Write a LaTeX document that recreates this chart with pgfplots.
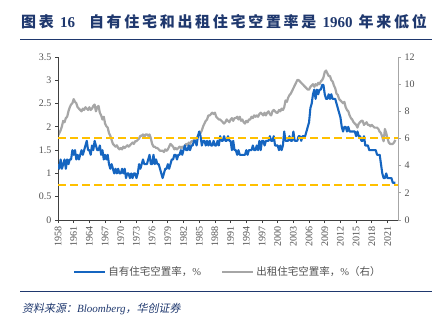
\documentclass[border=0pt]{standalone}
\usepackage{pgfplots}
\pgfplotsset{compat=1.18}
\usepackage{pgfplotstable}
\usepackage{fontspec}
\setmainfont{Liberation Serif}
\newfontfamily\cjk{Noto Sans CJK SC}
\newfontfamily\cjkt[LetterSpace=18]{Noto Sans CJK SC}
\newfontfamily\cjki[FakeSlant=0.2]{Noto Sans CJK SC}
\definecolor{navy}{RGB}{31,56,110}
\definecolor{cblue}{RGB}{21,101,192}
\definecolor{cgray}{RGB}{166,166,166}
\definecolor{corange}{RGB}{255,192,0}
\definecolor{tgray}{RGB}{80,80,80}

\pgfplotstableread[row sep=\\]{v\\
1.2\\1.1\\1.3\\1.1\\
1.2\\1.3\\1.1\\1.3\\
1.2\\1.3\\1.3\\1.5\\
1.4\\1.5\\1.3\\1.4\\
1.3\\1.4\\1.5\\1.4\\
1.5\\1.6\\1.7\\1.5\\
1.5\\1.4\\1.6\\1.5\\
1.7\\1.6\\1.5\\1.5\\
1.6\\1.4\\1.5\\1.3\\
1.4\\1.3\\1.4\\1.2\\
1.1\\1.2\\1.1\\1.0\\
1.1\\1.0\\1.1\\1.0\\
1.0\\1.1\\1.0\\1.1\\
0.9\\1.0\\1.0\\0.9\\
1.0\\0.9\\1.0\\1.0\\
0.9\\1.0\\1.2\\1.1\\
1.2\\1.3\\1.2\\1.2\\
1.2\\1.3\\1.4\\1.2\\
1.2\\1.4\\1.2\\1.3\\
1.2\\1.2\\1.1\\1.0\\
0.9\\1.0\\1.1\\1.1\\
1.2\\1.1\\1.2\\1.3\\
1.3\\1.4\\1.4\\1.3\\
1.4\\1.4\\1.5\\1.4\\
1.5\\1.6\\1.5\\1.5\\
1.6\\1.5\\1.6\\1.6\\
1.7\\1.7\\1.6\\1.8\\
1.9\\1.8\\1.6\\1.7\\
1.7\\1.6\\1.7\\1.6\\
1.7\\1.6\\1.6\\1.7\\
1.6\\1.6\\1.7\\1.6\\
1.8\\1.7\\1.7\\1.8\\
1.7\\1.7\\1.8\\1.7\\
1.7\\1.5\\1.7\\1.5\\
1.5\\1.4\\1.5\\1.4\\
1.4\\1.4\\1.4\\1.4\\
1.5\\1.4\\1.5\\1.5\\
1.5\\1.6\\1.5\\1.5\\
1.6\\1.5\\1.7\\1.5\\
1.7\\1.7\\1.6\\1.7\\
1.7\\1.7\\1.8\\1.7\\
1.7\\1.8\\1.6\\1.6\\
1.6\\1.5\\1.6\\1.5\\
1.6\\1.9\\1.7\\1.7\\
1.7\\1.8\\1.7\\1.7\\
1.9\\1.7\\1.7\\1.7\\
1.8\\1.8\\1.7\\1.8\\
1.8\\1.8\\1.9\\2.0\\
2.1\\2.4\\2.5\\2.7\\
2.8\\2.6\\2.8\\2.7\\
2.8\\2.8\\2.9\\2.9\\
2.7\\2.6\\2.6\\2.7\\
2.6\\2.7\\2.6\\2.6\\
2.6\\2.5\\2.4\\2.3\\
2.2\\2.0\\1.9\\2.0\\
2.0\\1.9\\2.0\\1.9\\
1.9\\1.9\\1.9\\1.9\\
1.8\\1.9\\1.8\\1.8\\
1.7\\1.7\\1.8\\1.6\\
1.6\\1.6\\1.5\\1.5\\
1.5\\1.5\\1.5\\1.5\\
1.4\\1.4\\1.4\\1.2\\
1.0\\0.9\\0.9\\1.0\\
0.9\\0.9\\0.9\\0.9\\
0.8\\0.8\\0.8\\
}\owner

\pgfplotstableread[row sep=\\]{v\\
6.2\\6.4\\6.6\\6.9\\
7.3\\7.2\\7.5\\7.6\\
8.0\\8.3\\8.5\\8.6\\
8.9\\8.7\\8.6\\8.3\\
8.2\\8.1\\8.0\\8.2\\
8.1\\8.3\\8.2\\8.1\\
8.3\\8.1\\8.2\\8.4\\
8.5\\8.0\\8.3\\8.4\\
7.9\\7.7\\7.4\\7.6\\
7.1\\6.9\\6.8\\6.4\\
6.2\\5.9\\5.6\\5.5\\
5.4\\5.5\\5.3\\5.2\\
5.3\\5.2\\5.4\\5.3\\
5.4\\5.5\\5.4\\5.5\\
5.6\\5.7\\5.6\\5.8\\
5.8\\5.9\\6.0\\6.2\\
6.2\\6.3\\6.1\\6.3\\
6.3\\6.2\\6.3\\6.0\\
5.6\\5.4\\5.4\\5.3\\
5.3\\5.2\\5.1\\5.1\\
5.1\\5.0\\5.2\\5.1\\
5.2\\5.4\\5.6\\5.5\\
5.4\\5.2\\5.3\\5.2\\
5.3\\5.4\\5.3\\5.4\\
5.3\\5.5\\5.6\\5.5\\
5.7\\5.6\\5.8\\5.8\\
5.9\\6.0\\6.0\\6.2\\
6.3\\6.4\\6.6\\6.9\\
7.1\\7.3\\7.4\\7.7\\
7.7\\7.8\\7.9\\7.8\\
7.9\\7.6\\7.5\\7.4\\
7.4\\7.3\\7.2\\7.1\\
7.2\\7.4\\7.3\\7.2\\
7.4\\7.5\\7.3\\7.5\\
7.5\\7.6\\7.4\\7.6\\
7.3\\7.4\\7.2\\7.1\\
7.3\\7.2\\7.4\\7.4\\
7.6\\7.5\\7.7\\7.6\\
7.7\\7.6\\7.8\\7.9\\
7.8\\7.7\\7.9\\7.7\\
7.9\\8.0\\7.8\\7.7\\
8.0\\8.1\\8.0\\7.9\\
7.9\\8.1\\8.0\\8.2\\
8.1\\8.3\\8.8\\8.7\\
9.0\\9.2\\9.3\\9.5\\
9.7\\9.9\\10.1\\10.3\\
10.3\\10.2\\10.1\\10.0\\
9.9\\9.8\\9.7\\9.6\\
9.6\\9.8\\9.9\\10.0\\
9.8\\10.0\\9.9\\10.1\\
10.0\\10.2\\10.3\\10.5\\
10.9\\11.0\\10.8\\10.6\\
10.6\\10.3\\10.2\\9.9\\
9.7\\9.3\\9.2\\8.9\\
8.8\\8.7\\8.6\\8.7\\
8.3\\8.1\\8.0\\7.7\\
7.5\\7.4\\7.2\\7.1\\
7.0\\6.8\\7.1\\7.2\\
7.3\\7.3\\7.0\\7.1\\
7.2\\7.0\\7.0\\6.9\\
7.0\\6.9\\6.8\\6.8\\
6.8\\6.7\\6.5\\6.4\\
6.1\\5.8\\6.7\\6.4\\
6.0\\5.7\\5.6\\5.6\\
5.6\\5.7\\5.9\\
}\rental

\begin{document}
\begin{tikzpicture}
\path[use as bounding box] (0pt,0pt) rectangle (440pt,-324pt);
% title
\node[anchor=west, text=navy, inner sep=0pt] at (21pt,-22pt)
  {\fontsize{15pt}{17pt}\selectfont\cjkt\bfseries 图表\ {\rmfamily\bfseries 16}\hspace{14pt}自有住宅和出租住宅空置率是 {\rmfamily\bfseries 1960} 年来低位};
\draw[navy, line width=1.3pt] (20pt,-39.5pt) -- (432pt,-39.5pt);
\draw[navy, line width=1.2pt] (20pt,-291.5pt) -- (432pt,-291.5pt);
\node[anchor=west, text=navy, inner sep=0pt] at (22pt,-309pt)
  {\fontsize{11pt}{13pt}\selectfont\cjki 资料来源：{\rmfamily\itshape Bloomberg}，华创证券};

% right axis (rental) drawn first so that the owner line lies on top
\begin{axis}[
  at={(58pt,-220pt)}, anchor=south west,
  scale only axis, width=340pt, height=163pt,
  xmin=1958, xmax=2023, ymin=0, ymax=12,
  axis x line=none, axis y line*=right,
  ytick={0,2,...,12},
  tick align=outside, major tick length=3pt,
  tick label style={font=\fontsize{10pt}{12pt}\selectfont, text=tgray},
  /pgf/number format/assume math mode=true,
  axis line style={cgray, line width=0.8pt},
  tick style={cgray, line width=0.8pt},
]
\addplot[cgray, line width=2.2pt, line join=round] table[x expr=1958+\coordindex/4, y=v]{\rental};
\end{axis}

\begin{axis}[
  at={(58pt,-220pt)}, anchor=south west,
  scale only axis, width=340pt, height=163pt,
  xmin=1958, xmax=2023, ymin=0, ymax=3.5,
  axis x line*=bottom, axis y line*=left,
  xtick={1958,1961,...,2021},
  ytick={0,0.5,...,3.5},
  tick align=outside, major tick length=3pt,
  x tick label style={rotate=90, anchor=east, /pgf/number format/1000 sep={}},
  tick label style={font=\fontsize{10pt}{12pt}\selectfont, text=tgray},
  /pgf/number format/assume math mode=true,
  axis line style={black!75, line width=0.8pt},
  tick style={black!75, line width=0.8pt},
  legend style={at={(0.5,-0.319)}, anchor=center, draw=none, fill=none,
    legend columns=2, font=\fontsize{10.5pt}{12pt}\selectfont\cjk, text=tgray,
    /tikz/every even column/.append style={column sep=18pt}},
  legend cell align=left,
  legend image code/.code={\draw[#1] (0pt,0pt) -- (31pt,0pt);},
]
\addplot[cblue, line width=2.1pt, line join=round] table[x expr=1958+\coordindex/4, y=v]{\owner};
\addlegendentry{自有住宅空置率，{\rmfamily\%}}
\addlegendimage{cgray, line width=2.2pt}
\addlegendentry{出租住宅空置率，{\rmfamily\%}（右）}
\addplot[corange, line width=2pt, dash pattern=on 8pt off 4pt, forget plot] coordinates {(1958,1.765) (2023.3,1.765)};
\addplot[corange, line width=2pt, dash pattern=on 8pt off 4pt, forget plot] coordinates {(1958,0.755) (2023.3,0.755)};
\end{axis}
\end{tikzpicture}
\end{document}
